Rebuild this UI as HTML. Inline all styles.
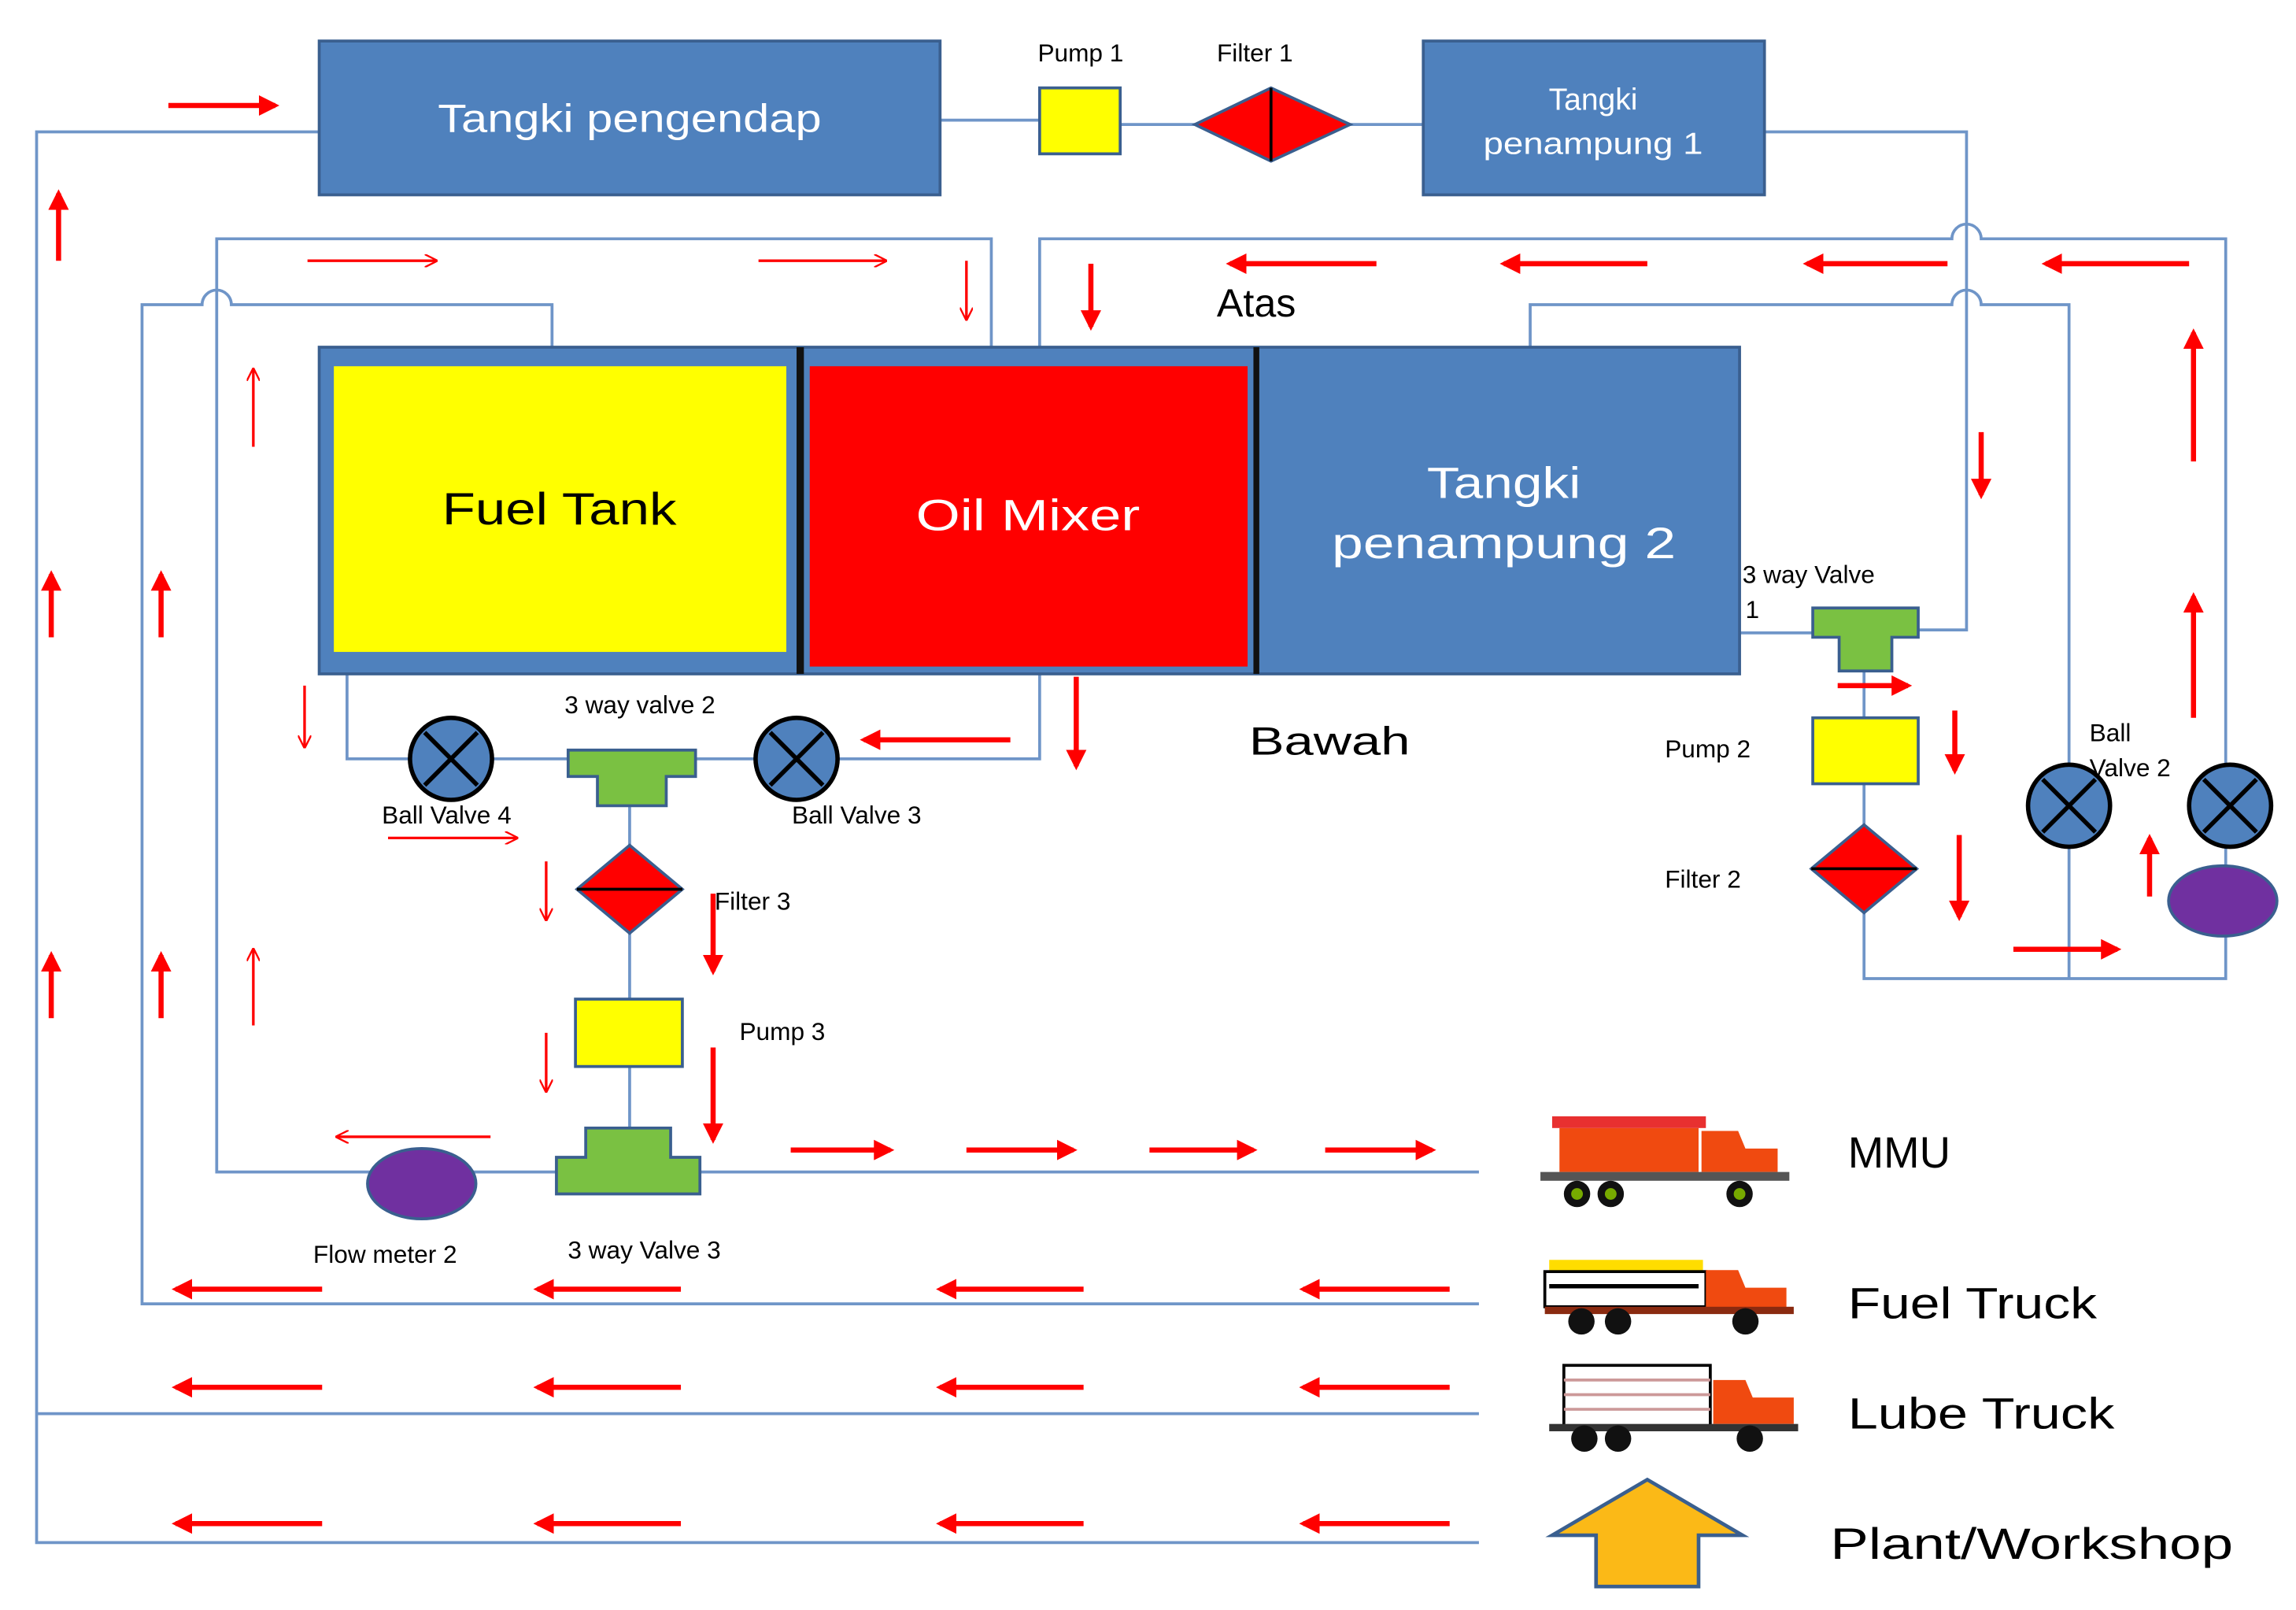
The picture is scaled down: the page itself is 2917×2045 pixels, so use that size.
<!DOCTYPE html>
<html><head><meta charset="utf-8"><style>
html,body{margin:0;padding:0;background:#fff;}
svg{display:block;}
text{font-family:"Liberation Sans",sans-serif;}
</style></head><body>
<svg width="2917" height="2045" viewBox="0 0 1568 1099" preserveAspectRatio="none" xmlns="http://www.w3.org/2000/svg">
<defs>
<marker id="ah" viewBox="0 0 10 10" refX="8" refY="5" markerWidth="4" markerHeight="4" orient="auto"><path d="M0,0 L10,5 L0,10 z" fill="#f00"/></marker>
<marker id="th" viewBox="0 0 10 10" refX="9" refY="5" markerWidth="9" markerHeight="9" orient="auto" markerUnits="userSpaceOnUse"><path d="M0,0 L10,5 L0,10" fill="none" stroke="#f00" stroke-width="1.4"/></marker>
</defs>
<g fill="none" stroke="#6f95c8" stroke-width="2">
<path d="M218,90 H25 V1053 H1010"/>
<path d="M25,965 H1010"/>
<path d="M642,82 H710 M765,85 H816 M922,85 H972"/>
<path d="M1205,90 H1343 V430 H1310"/>
<path d="M1188,432 H1238"/>
<path d="M677,237 V163 H148 V800 H1010"/>
<path d="M710,237 V163 H1333 A10,10 0 0 1 1353,163 H1520 V668 H1273 V458"/>
<path d="M377,237 V208 H158 A10,10 0 0 0 138,208 H97 V890 H1010"/>
<path d="M1045,237 V208 H1333 A10,10 0 0 1 1353,208 H1413 V668"/>
<path d="M237,460 V518 H710 V460"/>
<path d="M430,540 V800"/>
</g>
<rect x="218" y="28" width="424" height="105" fill="#4f81bd" stroke="#3a5f8f" stroke-width="2"/>
<text x="430" y="90" fill="#fff" font-size="27" text-anchor="middle" textLength="262" lengthAdjust="spacingAndGlyphs">Tangki pengendap</text>
<rect x="710" y="60" width="55" height="45" fill="#ff0" stroke="#3a5f8f" stroke-width="2"/>
<text x="738" y="42" font-size="17" text-anchor="middle">Pump 1</text>
<path d="M816,85 L868,60 L922,85 L868,110 z" fill="#f00" stroke="#3a5f8f" stroke-width="2"/>
<line x1="868" y1="60" x2="868" y2="110" stroke="#000" stroke-width="2"/>
<text x="857" y="42" font-size="17" text-anchor="middle">Filter 1</text>
<rect x="972" y="28" width="233" height="105" fill="#4f81bd" stroke="#3a5f8f" stroke-width="2"/>
<text x="1088" y="75" fill="#fff" font-size="21" text-anchor="middle">Tangki</text>
<text x="1088" y="105" fill="#fff" font-size="21" text-anchor="middle" textLength="150" lengthAdjust="spacingAndGlyphs">penampung  1</text>
<rect x="218" y="237" width="970" height="223" fill="#4f81bd" stroke="#3a5f8f" stroke-width="2"/>
<rect x="228" y="250" width="309" height="195" fill="#ff0"/>
<rect x="553" y="250" width="299" height="205" fill="#f00"/>
<rect x="544" y="237" width="5" height="223" fill="#111"/>
<rect x="856" y="237" width="4" height="223" fill="#111"/>
<text x="382" y="358" font-size="31" text-anchor="middle" textLength="160" lengthAdjust="spacingAndGlyphs">Fuel Tank</text>
<text x="702" y="362" fill="#fff" font-size="30" text-anchor="middle" textLength="153" lengthAdjust="spacingAndGlyphs">Oil Mixer</text>
<text x="1027" y="340" fill="#fff" font-size="30" text-anchor="middle" textLength="105" lengthAdjust="spacingAndGlyphs">Tangki</text>
<text x="1027" y="381" fill="#fff" font-size="30" text-anchor="middle" textLength="235" lengthAdjust="spacingAndGlyphs">penampung  2</text>
<text x="858" y="216" font-size="27" text-anchor="middle">Atas</text>
<text x="908" y="515" font-size="27" text-anchor="middle" textLength="110" lengthAdjust="spacingAndGlyphs">Bawah</text>
<g stroke="#000" stroke-width="3">
<circle cx="308" cy="518" r="28" fill="#4f81bd"/><path d="M290,500 L326,536 M326,500 L290,536"/>
<circle cx="544" cy="518" r="28" fill="#4f81bd"/><path d="M526,500 L562,536 M562,500 L526,536"/>
<circle cx="1413" cy="550" r="28" fill="#4f81bd"/><path d="M1395,532 L1431,568 M1431,532 L1395,568"/>
<circle cx="1523" cy="550" r="28" fill="#4f81bd"/><path d="M1505,532 L1541,568 M1541,532 L1505,568"/>
</g>
<path d="M388,512 H475 V530 H455 V550 H408 V530 H388 z" fill="#7ac142" stroke="#3a5f8f" stroke-width="2"/>
<path d="M1238,415 H1310 V435 H1292 V458 H1256 V435 H1238 z" fill="#7ac142" stroke="#3a5f8f" stroke-width="2"/>
<path d="M400,770 H458 V790 H478 V815 H380 V790 H400 z" fill="#7ac142" stroke="#3a5f8f" stroke-width="2"/>
<path d="M394,607 L430,577 L466,607 L430,637 z" fill="#f00" stroke="#3a5f8f" stroke-width="2"/>
<line x1="394" y1="607" x2="466" y2="607" stroke="#000" stroke-width="2"/>
<path d="M1237,593 L1273,563 L1309,593 L1273,623 z" fill="#f00" stroke="#3a5f8f" stroke-width="2"/>
<line x1="1237" y1="593" x2="1309" y2="593" stroke="#000" stroke-width="2"/>
<rect x="393" y="682" width="73" height="46" fill="#ff0" stroke="#3a5f8f" stroke-width="2"/>
<rect x="1238" y="490" width="72" height="45" fill="#ff0" stroke="#3a5f8f" stroke-width="2"/>
<ellipse cx="288" cy="808" rx="37" ry="24" fill="#7030a0" stroke="#3a5f8f" stroke-width="2"/>
<ellipse cx="1518" cy="615" rx="37" ry="24" fill="#7030a0" stroke="#3a5f8f" stroke-width="2"/>
<g font-size="17">
<text x="437" y="487" text-anchor="middle">3 way valve  2</text>
<text x="305" y="562" text-anchor="middle">Ball Valve 4</text>
<text x="585" y="562" text-anchor="middle">Ball Valve 3</text>
<text x="488" y="621">Filter 3</text>
<text x="505" y="710">Pump 3</text>
<text x="263" y="862" text-anchor="middle">Flow meter 2</text>
<text x="440" y="859" text-anchor="middle">3 way Valve  3</text>
<text x="1190" y="398">3 way Valve</text>
<text x="1192" y="422">1</text>
<text x="1137" y="517">Pump  2</text>
<text x="1137" y="606">Filter  2</text>
<text x="1427" y="506">Ball</text>
<text x="1427" y="530">Valve  2</text>
</g>
<g stroke="#f00" stroke-width="3.5" marker-end="url(#ah)">
<path d="M115,72 H188"/>
<path d="M40,178 V132"/><path d="M35,435 V392"/><path d="M35,695 V652"/><path d="M110,435 V392"/><path d="M110,695 V652"/>
<path d="M940,180 H840"/><path d="M1125,180 H1027"/><path d="M1330,180 H1234"/><path d="M1495,180 H1397"/>
<path d="M745,180 V223"/><path d="M1353,295 V338"/><path d="M1498,315 V227"/><path d="M1498,490 V407"/>
<path d="M690,505 H590"/><path d="M735,462 V523"/><path d="M487,610 V663"/><path d="M487,715 V778"/>
<path d="M540,785 H608"/><path d="M660,785 H733"/><path d="M785,785 H856"/><path d="M905,785 H978"/>
<path d="M220,880 H120"/><path d="M465,880 H367"/><path d="M740,880 H642"/><path d="M990,880 H890"/>
<path d="M220,947 H120"/><path d="M465,947 H367"/><path d="M740,947 H642"/><path d="M990,947 H890"/>
<path d="M220,1040 H120"/><path d="M465,1040 H367"/><path d="M740,1040 H642"/><path d="M990,1040 H890"/>
<path d="M1255,468 H1303"/><path d="M1335,485 V526"/><path d="M1338,570 V626"/><path d="M1375,648 H1446"/><path d="M1468,612 V572"/>
</g>
<g stroke="#f00" stroke-width="1.8" marker-end="url(#th)">
<path d="M210,178 H298"/><path d="M518,178 H605"/><path d="M660,178 V218"/><path d="M173,305 V252"/><path d="M208,468 V510"/>
<path d="M265,572 H353"/><path d="M373,588 V628"/><path d="M373,705 V745"/><path d="M173,700 V648"/><path d="M335,776 H230"/>
</g>
<g>
<rect x="1065" y="770" width="95" height="30" fill="#f04a10"/>
<rect x="1060" y="762" width="105" height="8" fill="#e83030"/>
<path d="M1162,772 h25 l5,12 h22 v16 h-52 z" fill="#f04a10"/>
<rect x="1052" y="800" width="170" height="6" fill="#555"/>
<circle cx="1077" cy="815" r="9" fill="#111"/><circle cx="1077" cy="815" r="4" fill="#7a0"/>
<circle cx="1100" cy="815" r="9" fill="#111"/><circle cx="1100" cy="815" r="4" fill="#7a0"/>
<circle cx="1188" cy="815" r="9" fill="#111"/><circle cx="1188" cy="815" r="4" fill="#7a0"/>
<rect x="1058" y="860" width="105" height="8" fill="#fd0"/>
<rect x="1055" y="868" width="110" height="24" fill="#fff" stroke="#000" stroke-width="2"/>
<line x1="1058" y1="878" x2="1160" y2="878" stroke="#000" stroke-width="3"/>
<path d="M1165,867 h22 l5,12 h28 v16 h-55 z" fill="#f04a10"/>
<rect x="1055" y="892" width="170" height="5" fill="#8a2a10"/>
<circle cx="1080" cy="902" r="9" fill="#111"/><circle cx="1105" cy="902" r="9" fill="#111"/><circle cx="1192" cy="902" r="9" fill="#111"/>
<rect x="1068" y="932" width="100" height="42" fill="#fff" stroke="#000" stroke-width="2"/>
<path d="M1068,942 h100 M1068,952 h100 M1068,962 h100" stroke="#c99" stroke-width="2"/>
<path d="M1170,942 h22 l5,12 h28 v18 h-55 z" fill="#f04a10"/>
<rect x="1058" y="972" width="170" height="5" fill="#333"/>
<circle cx="1082" cy="982" r="9" fill="#111"/><circle cx="1105" cy="982" r="9" fill="#111"/><circle cx="1195" cy="982" r="9" fill="#111"/>
</g>
<path d="M1060,1048 L1125,1010 L1190,1048 H1160 V1083 H1090 V1048 z" fill="#fbb917" stroke="#3a5f8f" stroke-width="2.5"/>
<g font-size="30">
<text x="1262" y="797" textLength="70" lengthAdjust="spacingAndGlyphs">MMU</text>
<text x="1262" y="900" textLength="170" lengthAdjust="spacingAndGlyphs">Fuel Truck</text>
<text x="1262" y="975" textLength="182" lengthAdjust="spacingAndGlyphs">Lube Truck</text>
<text x="1250" y="1064" textLength="275" lengthAdjust="spacingAndGlyphs">Plant/Workshop</text>
</g>
</svg>
</body></html>
